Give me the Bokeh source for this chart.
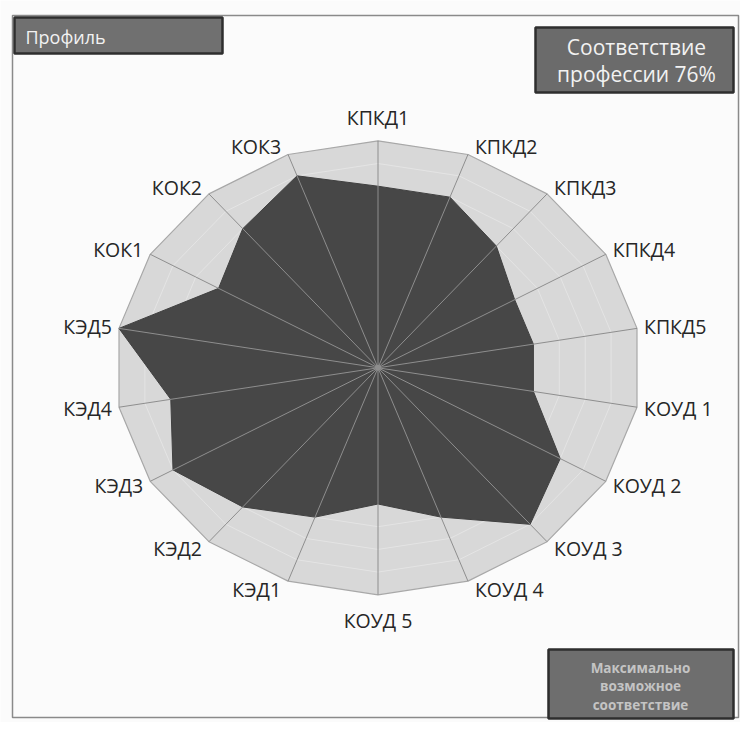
import numpy as np
from bokeh.plotting import figure
from bokeh.models import Range1d, ColumnDataSource
from bokeh.core.properties import value
from bokeh.embed import file_html
from bokeh.resources import INLINE

# ---- data ----
categories = ["КПКД1", "КПКД2", "КПКД3", "КПКД4", "КПКД5",
              "КОУД 1", "КОУД 2", "КОУД 3", "КОУД 4", "КОУД 5",
              "КЭД1", "КЭД2", "КЭД3", "КЭД4", "КЭД5",
              "КОК1", "КОК2", "КОК3"]
profile = [0.8, 0.8, 0.7, 0.6, 0.6,
           0.6, 0.8, 0.9, 0.7, 0.6,
           0.7, 0.8, 0.9, 0.8, 1.0,
           0.7, 0.8, 0.9]
maximum = [1.0] * 18
rings = [0.1, 0.2, 0.3, 0.4, 0.5, 0.6, 0.7, 0.8, 0.9]
title_left = "Профиль"
title_right = ["Соответствие", "профессии 76%"]
legend_max = ["Максимально", "возможное", "соответствие"]

# ---- layout ----
W, H = 740, 722
CX, CY = 377.5, 367.3      # centre in plot pixels (from top-left)
RX, RY = 263.0, 227.0      # pixel radius horizontally / vertically

def px(x, y):
    """plot pixel (from top-left) -> data coords"""
    return (x - CX) / RX, (CY - y) / RY

p = figure(width=W, height=H, output_backend="svg", toolbar_location=None,
           x_range=Range1d(-CX / RX, (W - CX) / RX),
           y_range=Range1d(-(H - CY) / RY, CY / RY),
           min_border=0)
p.axis.visible = False
p.grid.visible = False
p.outline_line_color = None
p.background_fill_color = "#fbfbfb"
p.border_fill_color = "#fbfbfb"

n = len(categories)
theta = np.deg2rad(90 - 360.0 / n * np.arange(n))
c, s = np.cos(theta), np.sin(theta)

def closed(r):
    r = np.asarray(r, dtype=float)
    return list(r * c) + [r[0] * c[0]], list(r * s) + [r[0] * s[0]]

# frame
fl, ft = px(12, 15)
fr, fb = px(738, 717)
p.quad(left=fl, right=fr, top=ft, bottom=fb, fill_color=None,
       line_color="#8a8a8a", line_width=1.5)

# max polygon
mx, my = closed(maximum)
p.patch(mx, my, fill_color="#d8d8d8", line_color="#a8a8a8", line_width=1.2)

# rings
rx_list, ry_list = [], []
for r in rings:
    xx, yy = closed([r] * n)
    rx_list.append(xx)
    ry_list.append(yy)
p.multi_line(rx_list, ry_list, line_color="#e4e4e4", line_width=1)

# profile polygon
pxs, pys = closed(profile)
p.patch(pxs, pys, fill_color="#474747", line_color="#404040", line_width=1)

# spokes
p.segment(x0=[0] * n, y0=[0] * n, x1=list(c), y1=list(s),
          line_color="#8e8e8e", line_width=1)
p.scatter([0], [0], size=6, fill_color="#8e8e8e", line_color=None)

# category labels
lx, ly, la = [], [], []
for i in range(n):
    vx = CX + RX * c[i]
    vy = CY - RY * s[i]
    if abs(c[i]) < 0.1:
        tx, ty, al = vx, (vy - 23 if s[i] > 0 else vy + 26), "center"
    else:
        tx = vx + 7 * np.sign(c[i])
        ty = vy - 9 * s[i]
        al = "left" if c[i] > 0 else "right"
    dx, dy = px(tx, ty)
    lx.append(dx); ly.append(dy); la.append(al)
src = ColumnDataSource(dict(x=lx, y=ly, t=categories, a=la))
p.text(x="x", y="y", text="t", text_align="a", text_baseline="middle",
       text_font=value("Open Sans"), text_font_size="19.5px",
       text_color="#262626", source=src)

# boxes
def box(x0, y0, x1, y1, fill):
    l, t = px(x0, y0)
    r, b = px(x1, y1)
    p.quad(left=l, right=r, top=t, bottom=b, fill_color=fill,
           line_color="#2e2e2e", line_width=2.5)

box(14, 17, 222, 53, "#707070")
tx, ty = px(25, 36)
p.text(x=[tx], y=[ty], text=[title_left], text_align="left",
       text_baseline="middle", text_font=value("Open Sans"),
       text_font_size="18px", text_color="#f2f2f2")

box(535, 27, 733, 92, "#6b6b6b")
for k, line in enumerate(title_right):
    tx, ty = px(636, 46 + 27 * k)
    p.text(x=[tx], y=[ty], text=[line], text_align="center",
           text_baseline="middle", text_font=value("Open Sans"),
           text_font_size="21px", text_color="#f2f2f2")

box(548, 649, 733, 718, "#6e6e6e")
for k, line in enumerate(legend_max):
    tx, ty = px(640, 667 + 18.5 * k)
    p.text(x=[tx], y=[ty], text=[line], text_align="center",
           text_baseline="middle", text_font=value("Open Sans"),
           text_font_size="13.5px", text_font_style="bold",
           text_color="#c4c4c4")

open("out.html", "w").write(file_html(p, INLINE))
